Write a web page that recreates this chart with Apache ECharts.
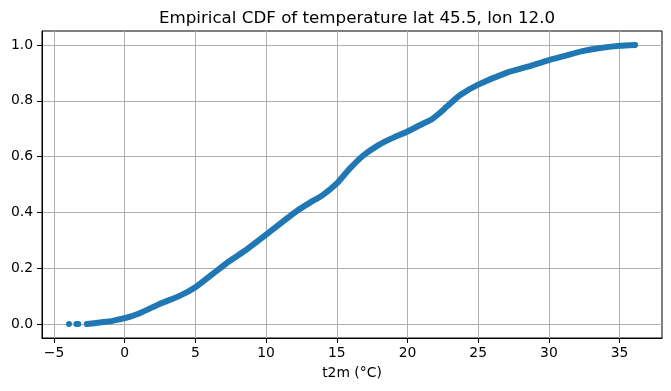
<!DOCTYPE html>
<html>
<head>
<meta charset="utf-8">
<script src="https://cdn.jsdelivr.net/npm/echarts@6/dist/echarts.min.js"></script>
<style>
html,body{margin:0;padding:0;background:#fff;}
#chart{width:671px;height:391px;}
</style>
</head>
<body>
<div id="chart"></div>
<script>
// Temperature (°C) and empirical CDF values
const tailTemps = [-3.94, -3.42, -3.28];
const tailCdf = [0.0, 0.0, 0.0];
const temps = [-2.68, -2.0, -1.0, -0.38, 0.0, 1.06, 2.47, 3.88, 5.0, 6.23, 7.42, 8.6, 10.0, 11.0, 12.2, 13.1, 14.0, 15.0, 15.9, 16.85, 18.0, 19.0, 20.0, 21.0, 21.7, 22.3, 22.8, 23.7, 25.0, 27.0, 28.5, 30.0, 31.2, 32.3, 33.5, 35.0, 36.1];
const cdf = [0.000, 0.004, 0.010, 0.017, 0.021, 0.039, 0.072, 0.101, 0.132, 0.180, 0.226, 0.266, 0.320, 0.360, 0.406, 0.435, 0.462, 0.504, 0.556, 0.603, 0.643, 0.668, 0.690, 0.716, 0.733, 0.757, 0.780, 0.820, 0.858, 0.900, 0.922, 0.946, 0.962, 0.977, 0.988, 0.997, 1.000];
const xTicks = [-5, 0, 5, 10, 15, 20, 25, 30, 35];
const yTicks = [0.0, 0.2, 0.4, 0.6, 0.8, 1.0];

const font = 'DejaVu Sans';
const blue = '#1f77b4';
const chart = echarts.init(document.getElementById('chart'), null, {renderer: 'canvas'});
chart.setOption({
  animation: false,
  backgroundColor: '#fff',
  title: {
    text: 'Empirical CDF of temperature lat 45.5, lon 12.0',
    left: 352, textAlign: 'center', top: 5,
    textStyle: {fontFamily: font, fontSize: 16.7, fontWeight: 'normal', color: '#000'}
  },
  grid: {left: 42, right: 9, top: 31, bottom: 53, show: true, borderColor: '#000', borderWidth: 1, backgroundColor: 'transparent'},
  xAxis: {
    type: 'value', min: -5.85, max: 38.0,
    name: 't2m (°C)', nameLocation: 'middle', nameGap: 28,
    nameTextStyle: {fontFamily: font, fontSize: 13.9, color: '#000'},
    axisLine: {show: true, onZero: false, lineStyle: {color: '#000', width: 1}},
    axisTick: {show: true, inside: false, length: 5, customValues: xTicks, lineStyle: {color: '#000', width: 1}},
    axisLabel: {customValues: xTicks, margin: 8, fontFamily: font, fontSize: 13.9, color: '#000', formatter: v => String(v).replace('-', '\u2212')},
    splitLine: {show: true, lineStyle: {color: '#b0b0b0', width: 1}}
  },
  yAxis: {
    type: 'value', min: -0.05, max: 1.05,
    axisLine: {show: true, onZero: false, lineStyle: {color: '#000', width: 1}},
    axisTick: {show: true, inside: false, length: 5, customValues: yTicks, lineStyle: {color: '#000', width: 1}},
    axisLabel: {customValues: yTicks, margin: 9, fontFamily: font, fontSize: 13.9, color: '#000', formatter: v => v.toFixed(1)},
    splitLine: {show: true, lineStyle: {color: '#b0b0b0', width: 1}}
  },
  series: [
    {
      type: 'line', data: temps.map((t, i) => [t, cdf[i]]),
      showSymbol: false, smooth: 0.2,
      lineStyle: {color: blue, width: 6, cap: 'round', join: 'round'},
      itemStyle: {color: blue}, z: 3
    },
    {
      type: 'scatter', data: tailTemps.map((t, i) => [t, tailCdf[i]]),
      symbol: 'circle', symbolSize: 6, itemStyle: {color: blue, opacity: 1}, z: 3
    }
  ]
});
</script>
</body>
</html>
